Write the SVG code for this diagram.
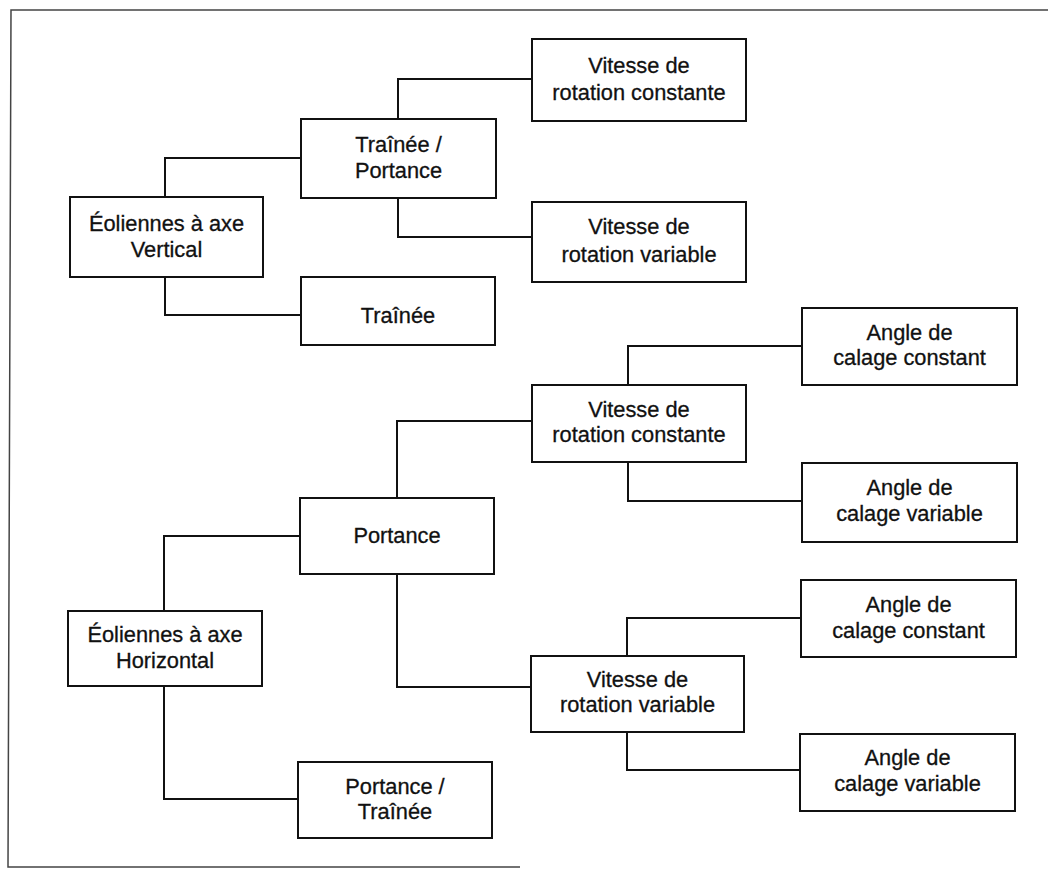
<svg xmlns="http://www.w3.org/2000/svg" width="1048" height="877" viewBox="0 0 1048 877">
<style>
  .box { fill: #ffffff; stroke: #111111; stroke-width: 2; }
  .lbl { font-family: "Liberation Sans", Arial, sans-serif; font-size: 21.8px; fill: #111111; stroke: #111111; stroke-width: 0.3; text-anchor: middle; }
  .conn { fill: none; stroke: #111111; stroke-width: 2; }
  .frame { fill: none; stroke: #444444; stroke-width: 1.5; }
</style>
<rect x="0" y="0" width="1048" height="877" fill="#ffffff"/>
<path class="frame" d="M1048 10 H11 L8 867 H520"/>
<g id="connectors">
  <path class="conn" d="M165 197 V158 H301"/>
  <path class="conn" d="M165 277 V315 H301"/>
  <path class="conn" d="M398 119 V79 H532"/>
  <path class="conn" d="M398 198 V237 H532"/>
  <path class="conn" d="M164 611 V536 H300"/>
  <path class="conn" d="M164 686 V799 H298"/>
  <path class="conn" d="M397 498 V421 H532"/>
  <path class="conn" d="M397 574 V687 H531"/>
  <path class="conn" d="M628 385 V346 H802"/>
  <path class="conn" d="M628 462 V501 H802"/>
  <path class="conn" d="M627 656 V618 H801"/>
  <path class="conn" d="M627 732 V770 H800"/>
</g>
<g id="n-vertical">
  <rect class="box" x="70" y="197" width="193" height="80"/>
  <text class="lbl" x="166.5" y="231">Éoliennes à axe</text>
  <text class="lbl" x="166.5" y="257">Vertical</text>
</g>
<g id="n-trainee-portance">
  <rect class="box" x="301" y="119" width="195" height="79"/>
  <text class="lbl" x="398.5" y="151.5">Traînée /</text>
  <text class="lbl" x="398.5" y="178">Portance</text>
</g>
<g id="n-trainee">
  <rect class="box" x="301" y="277" width="194" height="68"/>
  <text class="lbl" x="398" y="323">Traînée</text>
</g>
<g id="n-vc1">
  <rect class="box" x="532" y="39" width="214" height="82"/>
  <text class="lbl" x="639" y="72.5">Vitesse de</text>
  <text class="lbl" x="639" y="100">rotation constante</text>
</g>
<g id="n-vv1">
  <rect class="box" x="532" y="202" width="214" height="80"/>
  <text class="lbl" x="639" y="234">Vitesse de</text>
  <text class="lbl" x="639" y="262">rotation variable</text>
</g>
<g id="n-horizontal">
  <rect class="box" x="68" y="611" width="194" height="75"/>
  <text class="lbl" x="165" y="641.5">Éoliennes à axe</text>
  <text class="lbl" x="165" y="667.5">Horizontal</text>
</g>
<g id="n-portance">
  <rect class="box" x="300" y="498" width="194" height="76"/>
  <text class="lbl" x="397" y="542.5">Portance</text>
</g>
<g id="n-portance-trainee">
  <rect class="box" x="298" y="762" width="194" height="76"/>
  <text class="lbl" x="395" y="794">Portance /</text>
  <text class="lbl" x="395" y="819">Traînée</text>
</g>
<g id="n-vc2">
  <rect class="box" x="532" y="385" width="214" height="77"/>
  <text class="lbl" x="639" y="416.5">Vitesse de</text>
  <text class="lbl" x="639" y="442">rotation constante</text>
</g>
<g id="n-vv2">
  <rect class="box" x="531" y="656" width="213" height="76"/>
  <text class="lbl" x="637.5" y="686.5">Vitesse de</text>
  <text class="lbl" x="637.5" y="712">rotation variable</text>
</g>
<g id="n-ac1">
  <rect class="box" x="802" y="308" width="215" height="77"/>
  <text class="lbl" x="909.5" y="340">Angle de</text>
  <text class="lbl" x="909.5" y="365">calage constant</text>
</g>
<g id="n-av1">
  <rect class="box" x="802" y="463" width="215" height="79"/>
  <text class="lbl" x="909.5" y="494.5">Angle de</text>
  <text class="lbl" x="909.5" y="520.5">calage variable</text>
</g>
<g id="n-ac2">
  <rect class="box" x="801" y="580" width="215" height="77"/>
  <text class="lbl" x="908.5" y="611.5">Angle de</text>
  <text class="lbl" x="908.5" y="637.5">calage constant</text>
</g>
<g id="n-av2">
  <rect class="box" x="800" y="734" width="215" height="77"/>
  <text class="lbl" x="907.5" y="765">Angle de</text>
  <text class="lbl" x="907.5" y="790.5">calage variable</text>
</g>
</svg>
